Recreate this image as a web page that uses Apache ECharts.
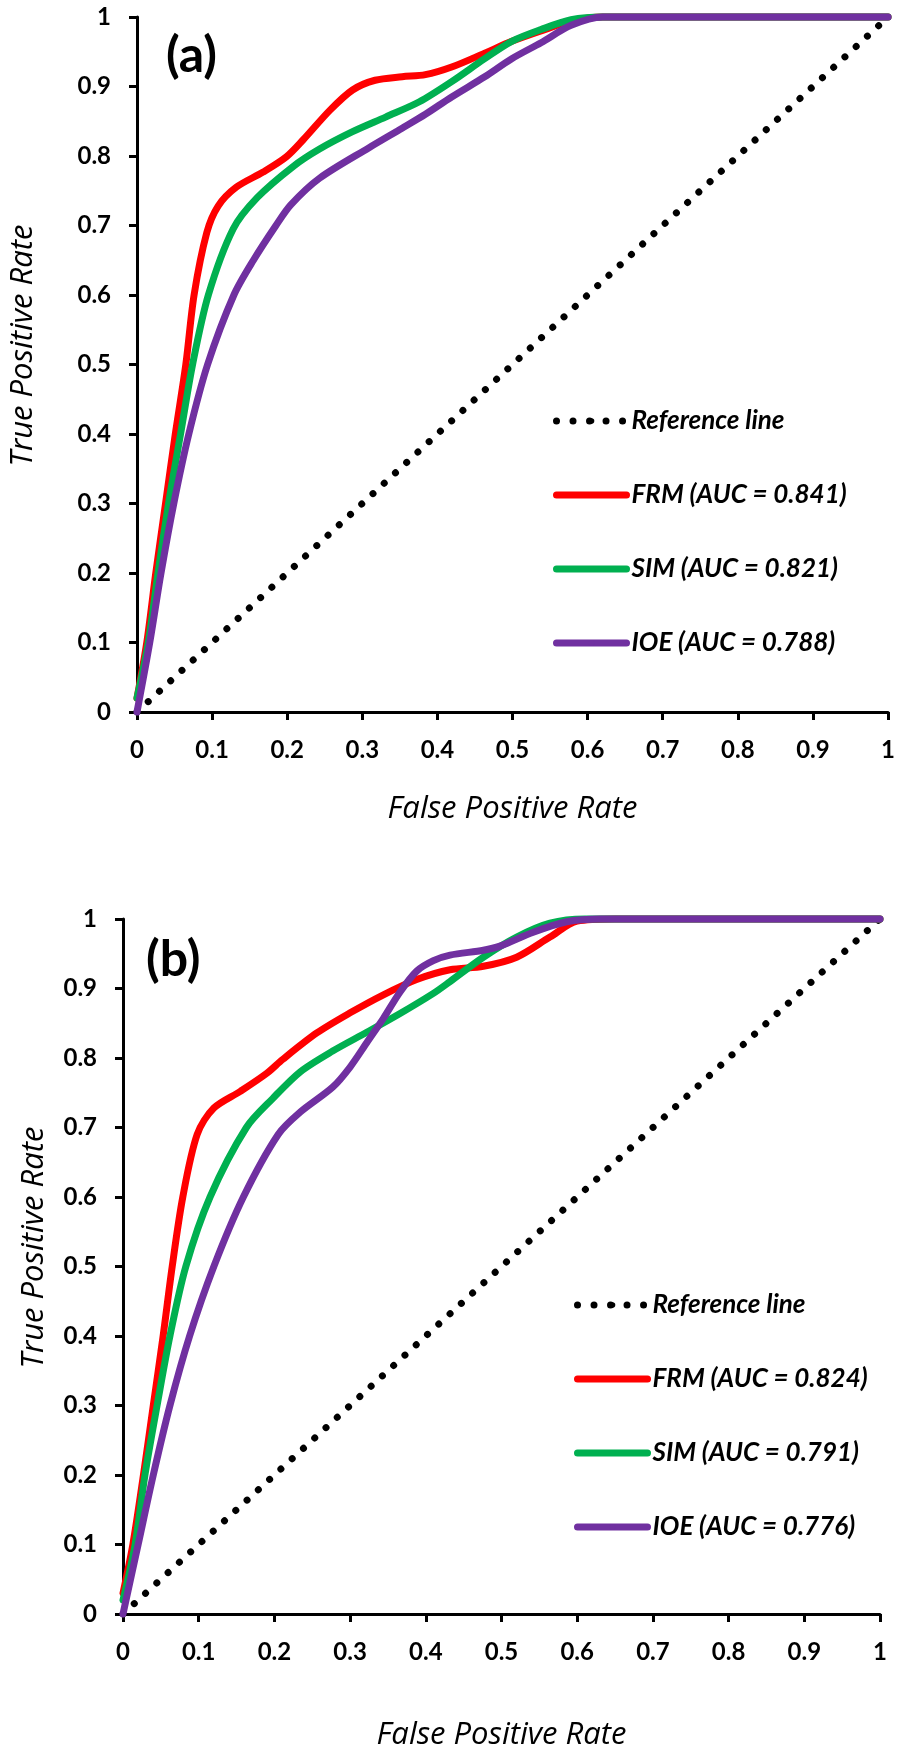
<!DOCTYPE html>
<html lang="en">
<head>
    <meta charset="UTF-8">
    <title>ROC curves (a) and (b)</title>
    <script src="https://cdnjs.cloudflare.com/ajax/libs/echarts/6.0.0/echarts.min.js"></script>
    <style>
        * { margin: 0; padding: 0; box-sizing: border-box; }
        body { background: #fff; }
        #main { width: 898px; height: 1753px; }
    </style>
</head>
<body>
    <div id="main"></div>

    <script>
        // legend names
        const namesA = ['Reference line', 'FRM (AUC = 0.841)', 'SIM (AUC = 0.821)', 'IOE (AUC = 0.788)'];
        const namesB = ['Reference line', 'FRM (AUC = 0.824)', 'SIM (AUC = 0.791)', 'IOE (AUC = 0.776)'];

        // reference diagonal
        const refLine = [[0, 0], [1, 1]];

        // panel (a): [false positive rate, true positive rate]
        const frmA = [[0, 0.02], [0.013, 0.1], [0.025, 0.2], [0.038, 0.3], [0.051, 0.4], [0.065, 0.5], [0.076, 0.6],
            [0.093, 0.69], [0.108, 0.728], [0.132, 0.755], [0.168, 0.777], [0.199, 0.799], [0.221, 0.823],
            [0.257, 0.866], [0.287, 0.895], [0.317, 0.909], [0.353, 0.914], [0.384, 0.917], [0.419, 0.928],
            [0.463, 0.948], [0.499, 0.965], [0.538, 0.98], [0.578, 0.994], [0.62, 1], [0.7, 1], [1, 1]];
        const simA = [[0, 0.02], [0.015, 0.1], [0.028, 0.2], [0.042, 0.3], [0.058, 0.4], [0.074, 0.5], [0.095, 0.6],
            [0.128, 0.695], [0.16, 0.74], [0.208, 0.785], [0.243, 0.81], [0.287, 0.835], [0.331, 0.856],
            [0.376, 0.878], [0.419, 0.907], [0.463, 0.94], [0.499, 0.965], [0.538, 0.982], [0.578, 0.996],
            [0.62, 1], [0.7, 1], [1, 1]];
        const ioeA = [[0, 0], [0.017, 0.1], [0.032, 0.2], [0.049, 0.3], [0.069, 0.4], [0.094, 0.5], [0.129, 0.6],
            [0.155, 0.65], [0.185, 0.7], [0.205, 0.73], [0.243, 0.768], [0.309, 0.812], [0.353, 0.84],
            [0.384, 0.86], [0.419, 0.885], [0.463, 0.914], [0.499, 0.94], [0.538, 0.963], [0.578, 0.988],
            [0.62, 1], [0.7, 1], [1, 1]];

        // panel (b)
        const frmB = [[0, 0.03], [0.013, 0.1], [0.027, 0.2], [0.04, 0.3], [0.053, 0.4], [0.065, 0.5], [0.079, 0.6],
            [0.098, 0.69], [0.12, 0.728], [0.155, 0.752], [0.19, 0.778], [0.211, 0.798], [0.256, 0.836],
            [0.3, 0.865], [0.344, 0.891], [0.388, 0.913], [0.432, 0.927], [0.476, 0.932], [0.52, 0.945],
            [0.564, 0.974], [0.6, 0.997], [0.65, 1], [0.7, 1], [1, 1]];
        const simB = [[0, 0.02], [0.016, 0.1], [0.029, 0.2], [0.045, 0.3], [0.062, 0.4], [0.083, 0.5], [0.115, 0.6],
            [0.163, 0.7], [0.198, 0.742], [0.234, 0.78], [0.277, 0.81], [0.322, 0.837], [0.366, 0.864],
            [0.41, 0.893], [0.432, 0.91], [0.476, 0.945], [0.52, 0.974], [0.564, 0.994], [0.61, 1], [0.7, 1], [1, 1]];
        const ioeB = [[0, 0], [0.02, 0.1], [0.04, 0.2], [0.062, 0.3], [0.088, 0.4], [0.12, 0.5], [0.159, 0.6],
            [0.205, 0.69], [0.234, 0.722], [0.277, 0.758], [0.3, 0.787], [0.322, 0.822], [0.344, 0.857],
            [0.366, 0.895], [0.388, 0.925], [0.41, 0.94], [0.432, 0.948], [0.476, 0.955], [0.498, 0.961],
            [0.542, 0.981], [0.586, 0.996], [0.63, 1], [0.7, 1], [1, 1]];

        const colors = ['#000000', '#ff0000', '#00b050', '#7030a0'];
        const FONT = 'Lato, "Open Sans", sans-serif';
        const TITLE_FONT = '"Open Sans", Lato, sans-serif';

        var myChart = echarts.init(document.getElementById('main'));

        function makeX(gridIndex, nameGap) {
            return {
                type: 'value', gridIndex: gridIndex, min: 0, max: 1, interval: 0.1,
                name: 'False Positive Rate', nameLocation: 'middle', nameGap: nameGap,
                nameTextStyle: { fontFamily: TITLE_FONT, fontStyle: 'italic', fontSize: 31, color: '#000' },
                axisLine: { lineStyle: { color: '#000', width: 3 } },
                axisTick: { length: 8, lineStyle: { color: '#000', width: 3 } },
                axisLabel: { fontFamily: FONT, fontWeight: 'bold', fontSize: 24, color: '#000', margin: 26 },
                splitLine: { show: false }
            };
        }

        function makeY(gridIndex, nameGap) {
            return {
                type: 'value', gridIndex: gridIndex, min: 0, max: 1, interval: 0.1,
                name: 'True Positive Rate', nameLocation: 'middle', nameGap: nameGap,
                nameTextStyle: { fontFamily: TITLE_FONT, fontStyle: 'italic', fontSize: 31, color: '#000', padding: [0, 0, 0, 38] },
                axisLine: { lineStyle: { color: '#000', width: 3 } },
                axisTick: { length: 8, lineStyle: { color: '#000', width: 3 } },
                axisLabel: { fontFamily: FONT, fontWeight: 'bold', fontSize: 24, color: '#000', margin: 26 },
                splitLine: { show: false }
            };
        }

        function makeSeries(names, datasets, idx) {
            return datasets.map(function (d, i) {
                var isRef = i === 0;
                return {
                    name: names[i], type: 'line', xAxisIndex: idx, yAxisIndex: idx,
                    data: d, symbol: 'none', clip: false,
                    smooth: isRef ? false : 0.3,
                    lineStyle: {
                        color: colors[i], width: 7, cap: 'round', join: 'round',
                        type: isRef ? [0.01, 15.3] : 'solid'
                    },
                    itemStyle: { color: colors[i] },
                    z: 2 + i
                };
            });
        }

        function makeLegend(names, left, top) {
            return {
                orient: 'vertical', left: left, top: top,
                padding: 0, itemGap: 48, itemWidth: 70, itemHeight: 7,
                lineStyle: { width: 7, cap: 'round' },
                textStyle: { fontFamily: FONT, fontStyle: 'italic', fontWeight: 'bold', fontSize: 26, color: '#000' },
                data: names.map(function (n, i) {
                    return i === 0
                        ? { name: n, lineStyle: { width: 7, cap: 'round', type: [0.01, 16.5] } }
                        : { name: n };
                })
            };
        }

        var option = {
            backgroundColor: '#fff',
            animation: false,
            title: [
                { text: '(a)', left: 166, top: 31, padding: 0, textStyle: { fontFamily: FONT, fontWeight: 'bold', fontSize: 50, color: '#000' } },
                { text: '(b)', left: 146, top: 935, padding: 0, textStyle: { fontFamily: FONT, fontWeight: 'bold', fontSize: 50, color: '#000' } }
            ],
            grid: [
                { left: 133, top: 17, width: 756, height: 695 },
                { left: 123, top: 919, width: 757, height: 695 }
            ],
            xAxis: [makeX(0, 82), makeX(1, 106)],
            yAxis: [makeY(0, 98), makeY(1, 73)],
            legend: [makeLegend(namesA, 553, 408), makeLegend(namesB, 574, 1292)],
            series: makeSeries(namesA, [refLine, frmA, simA, ioeA], 0)
                .concat(makeSeries(namesB, [refLine, frmB, simB, ioeB], 1))
        };

        myChart.setOption(option);
    </script>
</body>
</html>
